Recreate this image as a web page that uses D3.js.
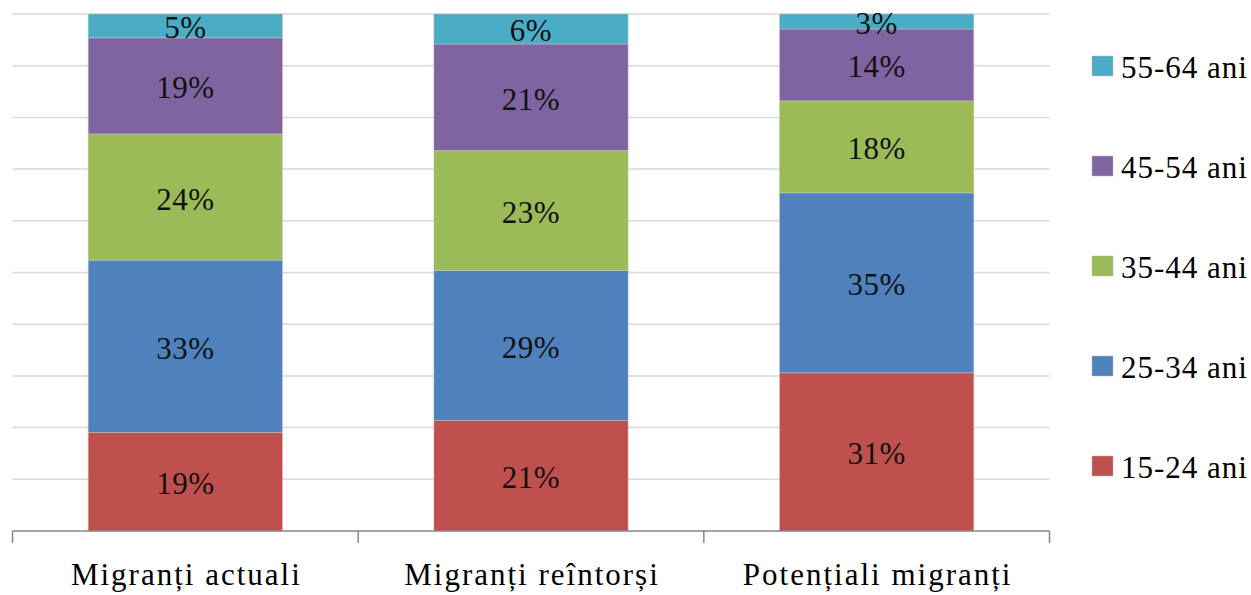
<!DOCTYPE html>
<html><head><meta charset="utf-8">
<script src="https://cdn.jsdelivr.net/npm/d3@7"></script>
<style>html,body{margin:0;padding:0;background:#fff;overflow:hidden}</style>
</head><body>
<svg id="c" width="1251" height="595"></svg>
<script>
const categories = ["Migranți actuali", "Migranți reîntorși", "Potențiali migranți"];
const seriesNames = ["15-24 ani", "25-34 ani", "35-44 ani", "45-54 ani", "55-64 ani"];
const s1524 = [19.1, 21.4, 30.6];
const s2534 = [33.3, 29.0, 34.8];
const s3544 = [24.4, 23.2, 17.8];
const s4554 = [18.6, 20.6, 13.9];
const s5564 = [4.6, 5.8, 2.9];
const colors = ["#C0504D", "#4F81BD", "#9BBB59", "#8064A2", "#4BACC6"];
const yTicks = [0, 10, 20, 30, 40, 50, 60, 70, 80, 90, 100];

(function () {
const seriesValues = [s1524, s2534, s3544, s4554, s5564];
const rows = categories.map((c, i) => {
  const r = {cat: c};
  seriesNames.forEach((s, j) => r[s] = seriesValues[j][i]);
  return r;
});

const svg = d3.select("#c");
const mLeft = 12.5, mRight = 1049.5, mTop = 14, mBottom = 531;
const x = d3.scaleBand().domain(categories).range([mLeft, mRight]).paddingInner(0.438).paddingOuter(0.219);
const y = d3.scaleLinear().domain([0, 100]).range([mBottom, mTop]);
const font = "'Liberation Serif', 'Times New Roman', serif";

svg.append("g").selectAll("line").data(yTicks.slice(1)).join("line")
  .attr("x1", mLeft).attr("x2", mRight)
  .attr("y1", d => y(d)).attr("y2", d => y(d))
  .attr("stroke", "#d9d9d9").attr("stroke-width", 1.5);

const stack = d3.stack().keys(seriesNames)(rows);
const g = svg.append("g");
stack.forEach((layer, j) => {
  g.append("g").selectAll("rect").data(layer).join("rect")
    .attr("x", d => x(d.data.cat))
    .attr("width", x.bandwidth())
    .attr("y", d => y(d[1]))
    .attr("height", d => y(d[0]) - y(d[1]))
    .attr("fill", colors[j])
    .attr("stroke", "rgba(200,200,200,0.6)").attr("stroke-width", 0.8);
});
stack.forEach((layer, j) => {
  g.append("g").selectAll("text").data(layer).join("text")
    .attr("x", d => x(d.data.cat) + x.bandwidth() / 2)
    .attr("y", d => (y(d[0]) + y(d[1])) / 2 + 2)
    .attr("text-anchor", "middle").attr("dominant-baseline", "central")
    .attr("font-family", font).attr("font-size", 31).attr("fill", "#111")
    .attr("letter-spacing", 0.5)
    .text(d => Math.round(d[1] - d[0]) + "%");
});

const xAxis = svg.append("g").attr("transform", `translate(0,${mBottom})`);
xAxis.append("line").attr("x1", mLeft).attr("x2", mRight).attr("y1", 0).attr("y2", 0)
  .attr("stroke", "#868686").attr("stroke-width", 1.5);
const tickXs = [mLeft, ...categories.map(c => x(c) + x.bandwidth() + x.step() * x.paddingInner() / 2)];
tickXs[tickXs.length - 1] = mRight;
xAxis.selectAll("line.tick").data(tickXs).join("line").attr("class", "tick")
  .attr("x1", d => d).attr("x2", d => d).attr("y1", 0).attr("y2", 12)
  .attr("stroke", "#868686").attr("stroke-width", 1.5);
xAxis.selectAll("text").data(categories).join("text")
  .attr("x", d => x(d) + x.bandwidth() / 2 + 1)
  .attr("y", 54)
  .attr("text-anchor", "middle")
  .attr("font-family", font).attr("font-size", 31).attr("fill", "#000")
  .attr("letter-spacing", 2)
  .text(d => d);

const legend = svg.append("g");
const legendOrder = seriesNames.slice().reverse();
legendOrder.forEach((s, i) => {
  const cy = 66 + i * 100;
  const idx = seriesNames.indexOf(s);
  legend.append("rect").attr("x", 1092).attr("y", cy - 10).attr("width", 21).attr("height", 20)
    .attr("fill", colors[idx]).attr("stroke", "#bbb").attr("stroke-width", 0.5);
  legend.append("text").attr("x", 1121).attr("y", cy + 1)
    .attr("dominant-baseline", "central")
    .attr("font-family", font).attr("font-size", 31).attr("fill", "#000")
    .attr("letter-spacing", 1)
    .text(s);
});
})();
</script>
</body></html>
